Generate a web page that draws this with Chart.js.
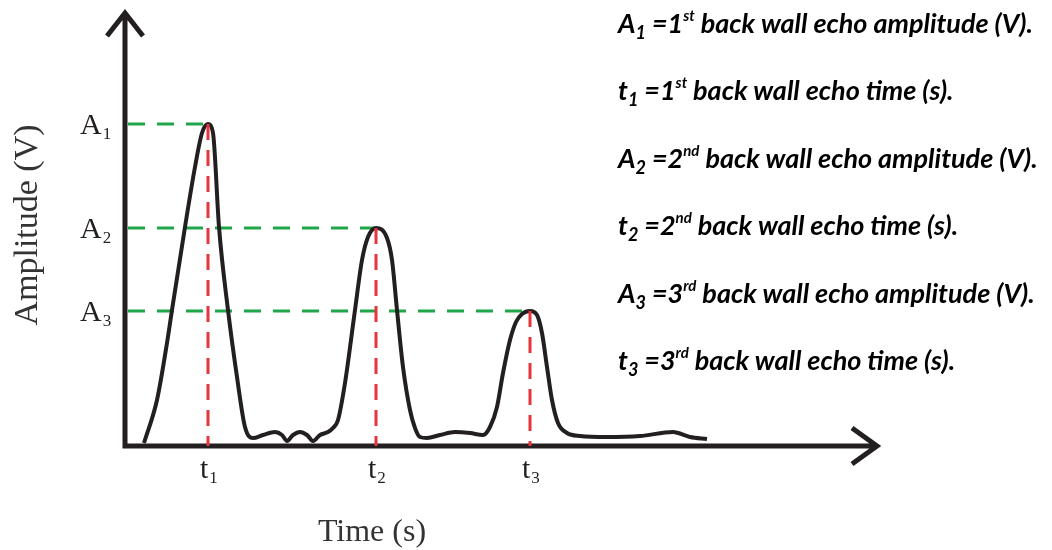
<!DOCTYPE html>
<html>
<head>
<meta charset="utf-8">
<script src="https://cdn.jsdelivr.net/npm/chart.js@4.4.1/dist/chart.umd.min.js"></script>
<style>
  body { margin: 0; background: #fff; }
  #wrap { position: relative; width: 1052px; height: 550px; }
  .note {
    position: absolute; left: 618px; color: #000; white-space: nowrap;
    font: italic 700 27px Lato, sans-serif; line-height: 1;
  }
  .note sub, .note sup { line-height: 0; position: relative; vertical-align: baseline; }
  .note sub { top: 6px; font-size: 18px; }
  .note sup { top: -12px; font-size: 15px; }
</style>
</head>
<body>
<div id="wrap">
  <canvas id="chart" width="1052" height="550"></canvas>
</div>
<script>
// echo signal (time, amplitude in arbitrary units)
const signalTime = [19, 32, 42, 47, 60, 70, 77, 83, 88, 94, 103, 112, 120, 128, 138,
  150, 157, 162, 168, 175, 182, 188, 195, 203, 208, 213, 220, 230, 237, 243, 251,
  262, 267, 272, 278, 285, 290, 295, 302, 315, 330, 345, 358, 365, 372, 378, 385, 391,
  397, 405, 412, 417, 422, 427, 433, 442, 455, 482, 515, 548, 565, 582];
const signalAmp = [3, 46, 103, 136, 219, 279, 313, 322, 313, 219, 136, 69, 19, 8, 11,
  14, 11, 5, 11, 14, 11, 5, 11, 14, 18, 26, 63, 136, 186, 209, 218,
  208, 186, 136, 79, 36, 18, 9, 8, 11, 14, 13, 11, 19, 39, 73, 106, 124,
  132, 135, 131, 113, 79, 46, 23, 13, 10, 9, 10, 14, 9, 7];

// echo peaks
const peakTime = [83, 251, 405];
const peakAmp = [322, 218, 135];
const refStart = 3;

const ampTickLabels = ['A1', 'A2', 'A3'];
const timeTickLabels = ['t1', 't2', 't3'];
const xTitle = 'Time (s)';
const yTitle = 'Amplitude (V)';
const ordinals = ['st', 'nd', 'rd'];

const INK = '#231f20';
const GREEN = '#1fa64b';
const RED = '#e8343c';
const SERIF = '"Liberation Serif", "Times New Roman", serif';

// notes on the right
const wrap = document.getElementById('wrap');
ordinals.forEach((suf, i) => {
  const n = i + 1;
  const lines = [
    `A<sub>${n}</sub> =${n}<sup>${suf}</sup> back wall echo amplitude (V).`,
    `t<sub>${n}</sub> =${n}<sup>${suf}</sup> back wall echo time (s).`
  ];
  lines.forEach((html, j) => {
    const d = document.createElement('div');
    d.className = 'note';
    d.style.top = (9 + (i * 2 + j) * 67.4) + 'px';
    d.innerHTML = html;
    wrap.appendChild(d);
  });
});

// text with a subscript last character
function drawSub(ctx, label, x, y, size) {
  const main = label.slice(0, -1), sub = label.slice(-1);
  ctx.font = size + 'px ' + SERIF;
  ctx.fillText(main, x, y);
  const w = ctx.measureText(main).width;
  ctx.font = Math.round(size * 0.55) + 'px ' + SERIF;
  ctx.fillText(sub, x + w + 1, y + 5);
}

const axesPlugin = {
  id: 'axesPlugin',
  beforeDatasetsDraw(chart) {
    const { ctx, chartArea: a } = chart;
    ctx.save();
    ctx.strokeStyle = INK;
    ctx.lineWidth = 5;
    ctx.lineJoin = 'miter';
    ctx.beginPath();
    ctx.moveTo(a.left, a.bottom + 2.5);
    ctx.lineTo(a.left, a.top + 3);
    ctx.moveTo(a.left - 18, a.top + 26);
    ctx.lineTo(a.left, a.top + 3);
    ctx.lineTo(a.left + 18, a.top + 26);
    ctx.moveTo(a.left - 2.5, a.bottom);
    ctx.lineTo(a.right - 3, a.bottom);
    ctx.moveTo(a.right - 28, a.bottom - 18);
    ctx.lineTo(a.right - 3, a.bottom);
    ctx.lineTo(a.right - 28, a.bottom + 18);
    ctx.stroke();
    ctx.restore();
  },
  afterDraw(chart) {
    const { ctx, scales: { x, y } } = chart;
    ctx.save();
    ctx.fillStyle = INK;
    ctx.textBaseline = 'alphabetic';
    ctx.textAlign = 'left';
    peakAmp.forEach((v, i) => drawSub(ctx, ampTickLabels[i], 80, y.getPixelForValue(v) + 10, 30));
    peakTime.forEach((t, i) => drawSub(ctx, timeTickLabels[i], x.getPixelForValue(t) - 8, 478, 30));

    ctx.fillStyle = '#333';
    ctx.textAlign = 'center';
    ctx.font = '32px ' + SERIF;
    ctx.fillText(xTitle, 372, 541);
    ctx.translate(37, 225);
    ctx.rotate(-Math.PI / 2);
    ctx.font = '34px ' + SERIF;
    ctx.fillText(yTitle, 0, 0);
    ctx.restore();
  }
};

const datasets = [{
  data: signalTime.map((t, i) => ({ x: t, y: signalAmp[i] })),
  borderColor: INK,
  borderWidth: 4,
  pointRadius: 0,
  cubicInterpolationMode: 'monotone',
  order: 1
}];
peakTime.forEach((t, i) => {
  datasets.push({
    data: [{ x: refStart, y: peakAmp[i] }, { x: t, y: peakAmp[i] }],
    borderColor: GREEN, borderWidth: 3, borderDash: [17, 12], pointRadius: 0, order: 2
  });
  datasets.push({
    data: [{ x: t, y: peakAmp[i] }, { x: t, y: 0 }],
    borderColor: RED, borderWidth: 3, borderDash: [16, 10], pointRadius: 0, order: 0
  });
});

new Chart(document.getElementById('chart'), {
  type: 'line',
  data: { datasets },
  options: {
    responsive: false,
    animation: false,
    layout: { padding: { left: 125, right: 172, top: 10, bottom: 104 } },
    plugins: { legend: { display: false }, tooltip: { enabled: false } },
    scales: {
      x: { type: 'linear', min: 0, max: 755, display: false },
      y: { min: 0, max: 436, display: false }
    }
  },
  plugins: [axesPlugin]
});
</script>
</body>
</html>
